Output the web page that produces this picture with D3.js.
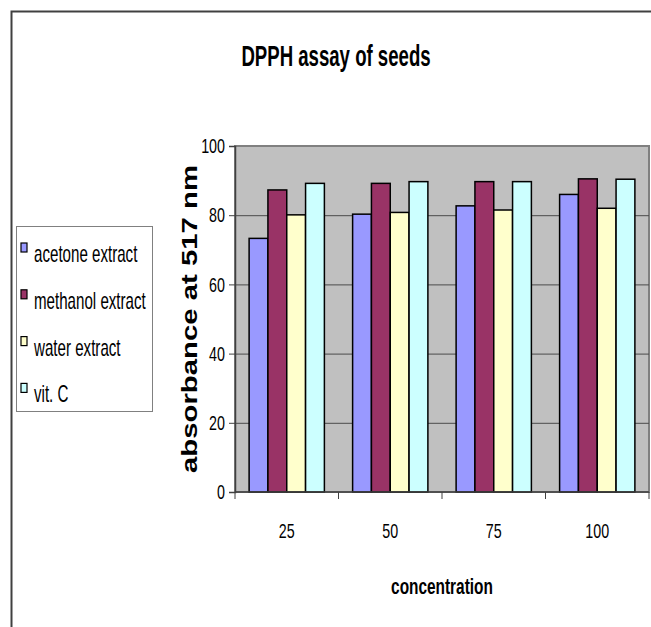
<!DOCTYPE html>
<html>
<head>
<meta charset="utf-8">
<script src="https://cdn.jsdelivr.net/npm/d3@7"></script>
<style>
  body { margin: 0; background: #fff; }
  svg { display: block; font-family: "Liberation Sans", Arial, sans-serif; }
</style>
</head>
<body>
<div id="chart"></div>
<script>
// data
const concentrations = ['25', '50', '75', '100'];
const seriesNames = ['acetone extract', 'methanol extract', 'water extract', 'vit. C'];
const acetone = [73.3, 80.3, 82.7, 86.0];
const methanol = [87.3, 89.2, 89.7, 90.5];
const water = [80.1, 80.8, 81.5, 82.0];
const vitC = [89.2, 89.7, 89.7, 90.4];
const yTicks = [0, 20, 40, 60, 80, 100];
const colors = ['#9999FF', '#993366', '#FFFFCC', '#CCFFFF'];

const seriesValues = [acetone, methanol, water, vitC];
const rows = concentrations.map((c, i) => ({
  conc: c,
  values: seriesNames.map((s, j) => ({ name: s, value: seriesValues[j][i], color: colors[j] }))
}));

const W = 651, H = 627;
const plot = { left: 235, right: 649, top: 146, bottom: 492 };

const svg = d3.select('#chart').append('svg')
  .attr('width', W)
  .attr('height', H);

svg.append('rect').attr('width', W).attr('height', H).attr('fill', '#fff');

// outer chart frame (runs off the right and bottom edges)
svg.append('rect')
  .attr('x', 11.5).attr('y', 11.5)
  .attr('width', 700).attr('height', 700)
  .attr('fill', 'none')
  .attr('stroke', '#404040')
  .attr('stroke-width', 2);

// squeeze text horizontally, the original is stretched vertically
function squash(sel, k) {
  sel.each(function() {
    const w = this.getComputedTextLength();
    d3.select(this).attr('textLength', w * k).attr('lengthAdjust', 'spacingAndGlyphs');
  });
}

const x0 = d3.scaleBand()
  .domain(concentrations)
  .range([plot.left, plot.right])
  .padding(0);

const x1 = d3.scaleBand()
  .domain(seriesNames)
  .range([0, x0.bandwidth()])
  .paddingInner(0)
  .paddingOuter(0.75);

const y = d3.scaleLinear()
  .domain([0, 100])
  .range([plot.bottom, plot.top]);

// plot area
svg.append('rect')
  .attr('x', plot.left).attr('y', plot.top)
  .attr('width', plot.right - plot.left)
  .attr('height', plot.bottom - plot.top)
  .attr('fill', '#C0C0C0')
  .attr('stroke', '#808080')
  .attr('stroke-width', 2);

// gridlines
svg.append('g')
  .selectAll('line')
  .data(yTicks.filter(t => t > 0 && t < 100))
  .join('line')
  .attr('x1', plot.left).attr('x2', plot.right)
  .attr('y1', d => y(d) + 0.5).attr('y2', d => y(d) + 0.5)
  .attr('stroke', '#4a4a4a')
  .attr('stroke-width', 1);

// bars
const groups = svg.append('g')
  .selectAll('g')
  .data(rows)
  .join('g')
  .attr('transform', d => `translate(${x0(d.conc)},0)`);

groups.selectAll('rect')
  .data(d => d.values)
  .join('rect')
  .attr('x', d => x1(d.name))
  .attr('y', d => y(d.value))
  .attr('width', x1.bandwidth())
  .attr('height', d => y(0) - y(d.value))
  .attr('fill', d => d.color)
  .attr('stroke', '#000')
  .attr('stroke-width', 1.5);

// y axis
const yAxis = svg.append('g')
  .attr('transform', `translate(${plot.left},0)`)
  .call(d3.axisLeft(y).tickValues(yTicks).tickSize(6).tickPadding(4));
yAxis.select('.domain').attr('stroke', '#404040').attr('stroke-width', 1.5);
yAxis.selectAll('.tick line').attr('stroke', '#404040');
yAxis.selectAll('.tick text')
  .attr('font-size', 21)
  .attr('fill', '#000')
  .attr('font-family', '"Liberation Sans", Arial, sans-serif')
  .call(squash, 0.68);

// x axis with ticks between categories
const xAxis = svg.append('g')
  .attr('transform', `translate(0,${plot.bottom})`);
xAxis.append('line')
  .attr('x1', plot.left).attr('x2', plot.right)
  .attr('stroke', '#404040').attr('stroke-width', 1.5);
xAxis.selectAll('line.sep')
  .data(concentrations.concat(['end']))
  .join('line')
  .attr('class', 'sep')
  .attr('x1', (d, i) => i < concentrations.length ? x0(d) : plot.right)
  .attr('x2', (d, i) => i < concentrations.length ? x0(d) : plot.right)
  .attr('y1', 0).attr('y2', 7)
  .attr('stroke', '#404040');
xAxis.selectAll('text')
  .data(concentrations)
  .join('text')
  .attr('x', d => x0(d) + x0.bandwidth() / 2)
  .attr('y', 46)
  .attr('text-anchor', 'middle')
  .attr('font-size', 21)
  .text(d => d)
  .call(squash, 0.68);

// title
svg.append('text')
  .attr('x', 336).attr('y', 66)
  .attr('text-anchor', 'middle')
  .attr('font-size', 30)
  .attr('font-weight', 'bold')
  .text('DPPH assay of seeds')
  .call(squash, 0.62);

// axis titles
svg.append('text')
  .attr('x', (plot.left + plot.right) / 2).attr('y', 594)
  .attr('text-anchor', 'middle')
  .attr('font-size', 22)
  .attr('font-weight', 'bold')
  .text('concentration')
  .call(squash, 0.7);

svg.append('text')
  .attr('transform', `translate(197,${(plot.top + plot.bottom) / 2}) rotate(-90)`)
  .attr('text-anchor', 'middle')
  .attr('font-size', 22)
  .attr('font-weight', 'bold')
  .text('absorbance at 517 nm')
  .attr('textLength', 308)
  .attr('lengthAdjust', 'spacingAndGlyphs');

// legend
const legend = svg.append('g');
legend.append('rect')
  .attr('x', 16.5).attr('y', 226.5)
  .attr('width', 136).attr('height', 185)
  .attr('fill', '#fff')
  .attr('stroke', '#808080');

const items = legend.selectAll('g.item')
  .data(seriesNames)
  .join('g')
  .attr('class', 'item')
  .attr('transform', (d, i) => `translate(0,${262 + i * 46.8})`);

items.append('rect')
  .attr('x', 21).attr('y', -19)
  .attr('width', 6).attr('height', 9)
  .attr('fill', (d, i) => colors[i])
  .attr('stroke', '#000')
  .attr('stroke-width', 1.2);

items.append('text')
  .attr('x', 34).attr('y', 0)
  .attr('font-size', 24)
  .text(d => d)
  .call(squash, 0.63);
</script>
</body>
</html>
